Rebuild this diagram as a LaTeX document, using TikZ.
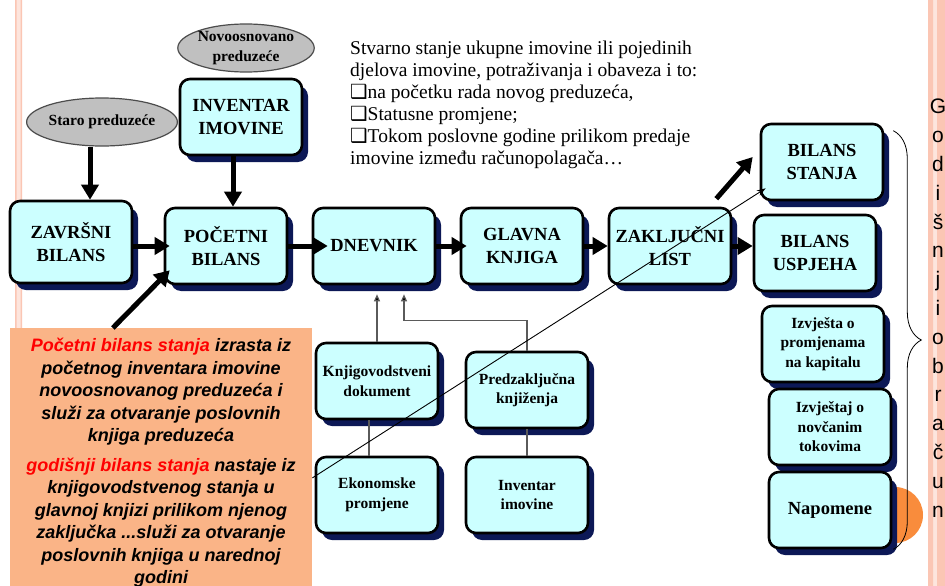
\documentclass[tikz,border=0pt]{standalone}
\usepackage{fontspec}
\setmainfont{Liberation Serif}
\newfontfamily\arialfont{Liberation Sans}
\newfontfamily\symfont{DejaVu Sans}
\usetikzlibrary{positioning,shapes.geometric,shadows,arrows.meta,calc,decorations.pathreplacing}
\definecolor{boxcyan}{RGB}{204,255,255}
\definecolor{navyshadow}{RGB}{12,24,86}
\definecolor{firmgray}{RGB}{192,192,192}
\definecolor{linegray}{RGB}{90,90,90}
\definecolor{callout}{RGB}{250,180,135}
\definecolor{dotorange}{RGB}{249,140,60}
\definecolor{stripe}{RGB}{251,198,180}
\definecolor{hotred}{RGB}{255,0,0}

\begin{document}
\begin{tikzpicture}[x=1pt,y=-1pt,on grid,node distance=148pt,
  box/.style={draw,line width=2.6pt,rounded corners=10pt,fill=boxcyan,
    minimum width=122pt,minimum height=76pt,align=center,inner sep=2pt,
    font=\bfseries\fontsize{18.5}{23}\selectfont,
    drop shadow={shadow xshift=6pt,shadow yshift=-7pt,fill=navyshadow,opacity=1}},
  smallbox/.style={box,font=\bfseries\fontsize{15.5}{19.5}\selectfont},
  firm/.style={ellipse,draw=black!70,line width=1.2pt,fill=firmgray,
    minimum width=118pt,minimum height=48pt,inner sep=0pt,align=center,
    font=\bfseries\fontsize{15.5}{20}\selectfont},
  bigarrow/.style={line width=5pt,-{Triangle[length=15pt,width=17pt]}},
  thinarrow/.style={draw=linegray,line width=1.2pt,-{Triangle[length=7pt,width=6pt,fill=black]}}]
  \useasboundingbox (0,0) rectangle (945,586);
  \fill[white] (0,0) rectangle (945,586);

  % side stripes
  \fill[stripe!45] (15,0) rectangle (22,586);
  \fill[stripe] (15,0) rectangle (16.5,586) (20.5,0) rectangle (22,586);
  \fill[stripe!45] (928,0) rectangle (945,586);
  \fill[stripe] (928,0) rectangle (933,586) (937,0) rectangle (945,586);
  \fill[dotorange] (895,515) circle (28pt);

  % firms and inventory
  \node[firm] (novo) at (246,48) {Novoosnovano\\preduzeće};
  \node[firm] (staro) at (102,122) {Staro preduzeće};
  \node[box] (inventar) at (241,117) {INVENTAR\\IMOVINE};

  % main row
  \node[box,minimum height=82pt] (zavrsni) at (71,242) {ZAVRŠNI\\BILANS};
  \node[box] (pocetni) at (226,246) {POČETNI\\BILANS};
  \node[box] (dnevnik) [right=of pocetni] {DNEVNIK};
  \node[box] (glavna) [right=of dnevnik] {GLAVNA\\KNJIGA};
  \node[box] (zakljucni) [right=of glavna] {ZAKLJUČNI\\LIST};

  % reports
  \node[box] (stanje) at (822,162) {BILANS\\STANJA};
  \node[box] (uspjeh) at (815,253) {BILANS\\USPJEHA};
  \node[smallbox] (kapital) at (823,344) {Izvješta o\\promjenama\\na kapitalu};
  \node[smallbox] (tokovi) at (830,427) {Izvještaj o\\novčanim\\tokovima};
  \node[box] (napomene) at (830,510) {Napomene};

  % documents under the journal
  \node[smallbox] (knjigdok) at (377,381) {Knjigovodstveni\\dokument};
  \node[smallbox] (predzak) at (527,390) {Predzaključna\\knjiženja};
  \node[smallbox] (ekonom) at (377,495) {Ekonomske\\promjene};
  \node[smallbox] (invimov) at (527,495) {Inventar\\imovine};

  % text
  \node[anchor=north west,align=left,inner sep=0pt,font=\fontsize{19.5}{22}\selectfont] (opis) at (350,41)
    {Stvarno stanje ukupne imovine ili pojedinih\\
     djelova imovine, potraživanja i obaveza i to:\\
     {\symfont ❑}na početku rada novog preduzeća,\\
     {\symfont ❑}Statusne promjene;\\
     {\symfont ❑}Tokom poslovne godine prilikom predaje\\
     imovine između računopolagača…};
  \node[fill=callout,minimum width=302pt,minimum height=258pt,anchor=north west,inner sep=0pt] (callout) at (10,328) {};
  \node[anchor=north,align=center,inner sep=0pt,font=\arialfont\bfseries\itshape\fontsize{18}{22.5}\selectfont] (callouttext) at (161,338)
    {\textcolor{hotred}{Početni bilans stanja} izrasta iz\\
     početnog inventara imovine\\
     novoosnovanog preduzeća i\\
     služi za otvaranje poslovnih\\
     knjiga preduzeća\\[7pt]
     \textcolor{hotred}{godišnji bilans stanja} nastaje iz\\
     knjigovodstvenog stanja u\\
     glavnoj knjizi prilikom njenog\\
     zaključka ...služi za otvaranje\\
     poslovnih knjiga u narednoj\\
     godini};
  \node[anchor=north,align=center,inner sep=0pt,font=\arialfont\fontsize{21}{28.8}\selectfont] (godisnji) at (938,99)
    {G\\o\\d\\i\\š\\n\\j\\i\\o\\b\\r\\a\\č\\u\\n};

  % thick arrows
  \path[bigarrow]
    ([xshift=-12pt]staro.south) edge ([xshift=-12pt]staro.south |- zavrsni.north)
    ([xshift=-8pt]inventar.south) edge ([xshift=-8pt]inventar.south |- pocetni.north)
    (zavrsni.east |- pocetni) edge[shorten >=-6pt] (pocetni.west)
    (pocetni) edge[shorten >=-16pt] (dnevnik)
    (dnevnik) edge[shorten >=-7pt] (glavna)
    (glavna) edge (zakljucni)
    (zakljucni.east) edge (zakljucni.east -| uspjeh.west)
    ($(callout.north west)!0.34!(callout.north east)$) edge ($(pocetni.south west)+(6,-15)$)
    ($(zakljucni.north east)+(-16,-8)$) edge ($(stanje.west)+(-7,-5)$);

  % thin arrows and lines
  \draw[thinarrow,shorten >=9pt] (knjigdok.north) -- (knjigdok.north |- dnevnik.south);
  \draw[thinarrow] (predzak.north) -- ++(0,-30) -| ([xshift=30pt,yshift=-9pt]dnevnik.south);
  \draw[linegray,line width=1.2pt] ([xshift=-8pt]knjigdok.south) -- ([xshift=-8pt]knjigdok.south |- ekonom.north)
    (predzak) -- (invimov);
  \draw[line width=0.9pt,-{Stealth[length=9pt,width=6pt]}]
    ($(callout.north east)!0.58!(callout.south east)$) -- ($(stanje.south west)+(6,-13)$);

  % brace
  \draw[decorate,decoration={brace,amplitude=28pt},line width=0.8pt]
    ($(stanje.north east)+(9,8)$) -- ($(napomene.south east)+(1,0)$);
\end{tikzpicture}
\end{document}
